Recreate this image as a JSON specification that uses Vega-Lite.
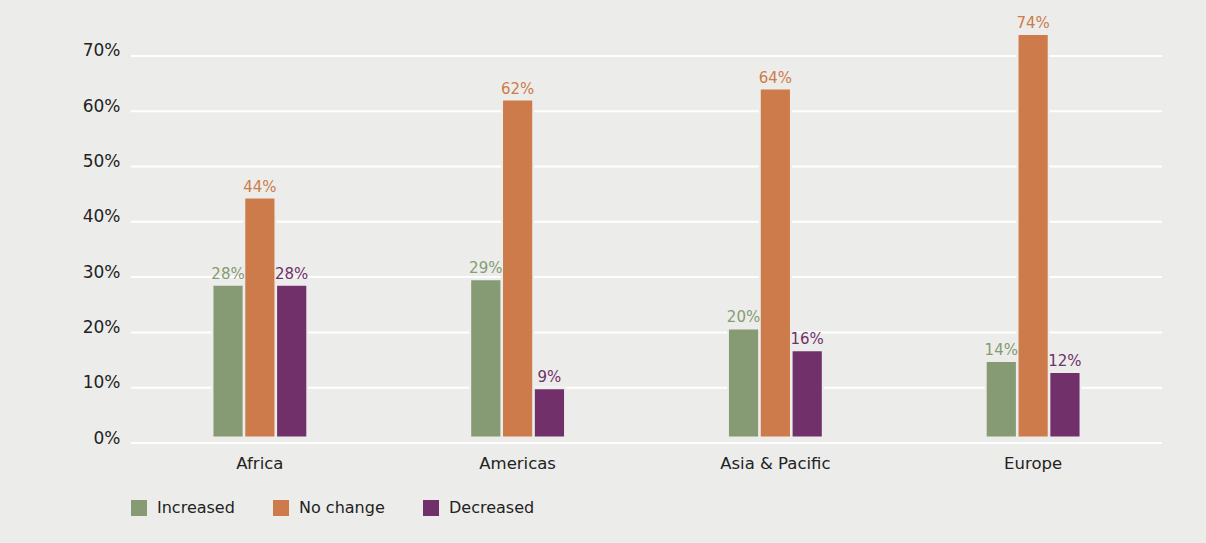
{
  "$schema": "https://vega.github.io/schema/vega-lite/v6.json",
  "width": 1031,
  "height": 420,
  "autosize": {"type": "none"},
  "padding": {"left": 131, "top": 23, "right": 44, "bottom": 100},
  "background": "#ecedea",
  "config": {"view": {"stroke": null}, "font": "DejaVu Sans"},
  "datasets": {
    "bars": [
      {"region": "Africa", "series": "Increased", "value": 0.28},
      {"region": "Africa", "series": "No change", "value": 0.44},
      {"region": "Africa", "series": "Decreased", "value": 0.28},
      {"region": "Americas", "series": "Increased", "value": 0.29},
      {"region": "Americas", "series": "No change", "value": 0.62},
      {"region": "Americas", "series": "Decreased", "value": 0.09},
      {"region": "Asia & Pacific", "series": "Increased", "value": 0.20},
      {"region": "Asia & Pacific", "series": "No change", "value": 0.64},
      {"region": "Asia & Pacific", "series": "Decreased", "value": 0.16},
      {"region": "Europe", "series": "Increased", "value": 0.14},
      {"region": "Europe", "series": "No change", "value": 0.74},
      {"region": "Europe", "series": "Decreased", "value": 0.12}
    ],
    "grid": [
      {"v": 0}, {"v": 0.1}, {"v": 0.2}, {"v": 0.3}, {"v": 0.4}, {"v": 0.5}, {"v": 0.6}, {"v": 0.7}
    ]
  },
  "layer": [
    {
      "data": {"name": "grid"},
      "mark": {"type": "rule", "stroke": "#ffffff", "strokeWidth": 2},
      "encoding": {
        "y": {
          "field": "v",
          "type": "quantitative",
          "scale": {"domain": [0, 0.7595], "nice": false, "zero": false},
          "axis": {
            "orient": "left",
            "format": ".0%",
            "values": [0, 0.1, 0.2, 0.3, 0.4, 0.5, 0.6, 0.7],
            "grid": false,
            "domain": false,
            "ticks": false,
            "labelFontSize": 17,
            "labelColor": "#222222",
            "labelPadding": 11,
            "labelBaseline": "alphabetic",
            "title": null
          }
        }
      }
    },
    {
      "data": {"name": "bars"},
      "encoding": {
        "x": {
          "field": "region",
          "type": "nominal",
          "sort": null,
          "scale": {"paddingInner": 0.632, "paddingOuter": 0.316},
          "axis": {
            "orient": "bottom",
            "title": null,
            "labelAngle": 0,
            "domain": false,
            "ticks": false,
            "labelFontSize": 16.5,
            "labelColor": "#222222",
            "labelPadding": 12
          }
        },
        "xOffset": {
          "field": "series",
          "type": "nominal",
          "sort": ["Increased", "No change", "Decreased"],
          "scale": {"paddingInner": 0.02, "paddingOuter": 0}
        },
        "y": {
          "field": "value",
          "type": "quantitative",
          "scale": {"domain": [-0.0103, 0.7604], "nice": false, "zero": false},
          "axis": null
        },
        "color": {
          "field": "series",
          "type": "nominal",
          "sort": ["Increased", "No change", "Decreased"],
          "scale": {
            "domain": ["Increased", "No change", "Decreased"],
            "range": ["#869b74", "#cd7b4a", "#71306a"]
          },
          "legend": {
            "orient": "none",
            "legendX": 0,
            "legendY": 477,
            "direction": "horizontal",
            "title": null,
            "symbolType": "square",
            "symbolSize": 256,
            "symbolStrokeWidth": 0,
            "symbolOpacity": 1,
            "labelFontSize": 16,
            "labelColor": "#222222",
            "labelOffset": 10,
            "columnPadding": 38
          }
        }
      },
      "layer": [
        {
          "mark": {"type": "bar", "stroke": "#ecedea", "strokeWidth": 2}
        },
        {
          "mark": {"type": "text", "baseline": "alphabetic", "dy": -6, "fontSize": 15},
          "encoding": {
            "text": {"field": "value", "type": "quantitative", "format": ".0%"}
          }
        }
      ]
    }
  ],
  "resolve": {"scale": {"y": "independent"}}
}
